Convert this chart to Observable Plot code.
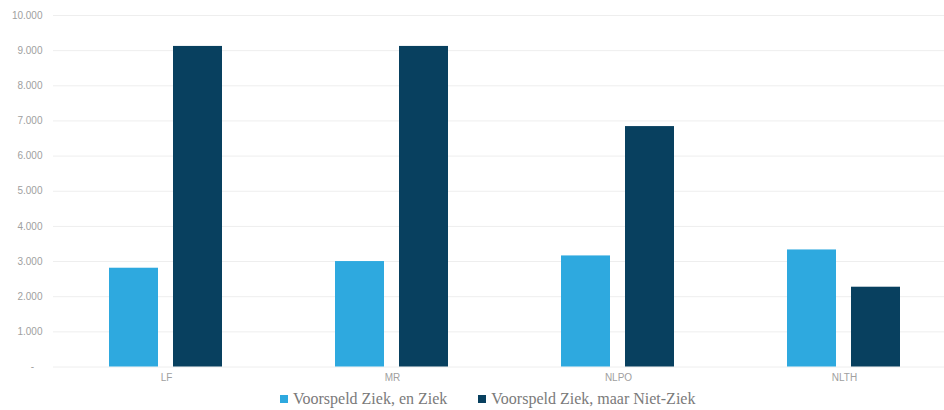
<!DOCTYPE html>
<html>
<head>
<meta charset="utf-8">
<script src="https://cdn.jsdelivr.net/npm/d3@7"></script>
<script src="https://cdn.jsdelivr.net/npm/@observablehq/plot@0.6"></script>
<style>
  html, body { margin: 0; padding: 0; overflow: hidden; background: #fff; }
  #chart { width: 957px; }
  #chart svg { display: block; max-width: none !important; }
  .legend { display: flex; gap: 31px; margin-left: 280px; margin-top: 4px;
            font-family: "Liberation Serif", "Times New Roman", serif; font-size: 16px; color: #7a7a7a; }
  .legend span.sw { display: inline-block; width: 8px; height: 8px; margin-right: 5px; vertical-align: 1px; }
</style>
</head>
<body>
<div id="chart"></div>
<script>
const categories = ["LF", "MR", "NLPO", "NLTH"];
const series = ["Voorspeld Ziek, en Ziek", "Voorspeld Ziek, maar Niet-Ziek"];
const valuesZiek = [2810, 3000, 3160, 3330];
const valuesNietZiek = [9120, 9120, 6840, 2270];
const yTicks = [0, 1000, 2000, 3000, 4000, 5000, 6000, 7000, 8000, 9000, 10000];
const colors = ["#2ea9df", "#08405f"];

const data = [];
categories.forEach((c, i) => {
  data.push({cat: c, series: series[0], value: valuesZiek[i]});
  data.push({cat: c, series: series[1], value: valuesNietZiek[i]});
});

const fmt = d => d === 0 ? "-\u00A0\u00A0\u00A0" : d3.format(",")(d).replace(/,/g, ".");

const chart = Plot.plot({
  width: 957,
  height: 386,
  marginLeft: 52,
  marginRight: 0,
  marginTop: 15,
  marginBottom: 19.5,
  style: {fontFamily: "'Liberation Sans', Arial, Helvetica, sans-serif", fontSize: "10px", color: "#999", maxWidth: "none"},
  fx: {domain: categories, padding: 0, label: null},
  x: {domain: series, paddingInner: 0.2308, paddingOuter: 0.856, axis: null},
  y: {domain: [0, 10000], axis: null},
  color: {domain: series, range: colors},
  marks: [
    Plot.gridY(yTicks, {stroke: "#eeeeee", strokeOpacity: 1}),
    Plot.axisY(yTicks, {tickSize: 0, tickPadding: 11, tickFormat: fmt, label: null, fill: "#a0a0a0"}),
    Plot.axisFx({anchor: "bottom", tickSize: 0, tickPadding: 7, label: null, fill: "#a0a0a0"}),
    Plot.barY(data, {fx: "cat", x: "series", y: "value", fill: "series"})
  ]
});
document.getElementById("chart").appendChild(chart);

const legend = document.createElement("div");
legend.className = "legend";
series.forEach((s, i) => {
  const item = document.createElement("div");
  item.innerHTML = `<span class="sw" style="background:${colors[i]}"></span>${s}`;
  legend.appendChild(item);
});
document.body.appendChild(legend);
</script>
</body>
</html>
